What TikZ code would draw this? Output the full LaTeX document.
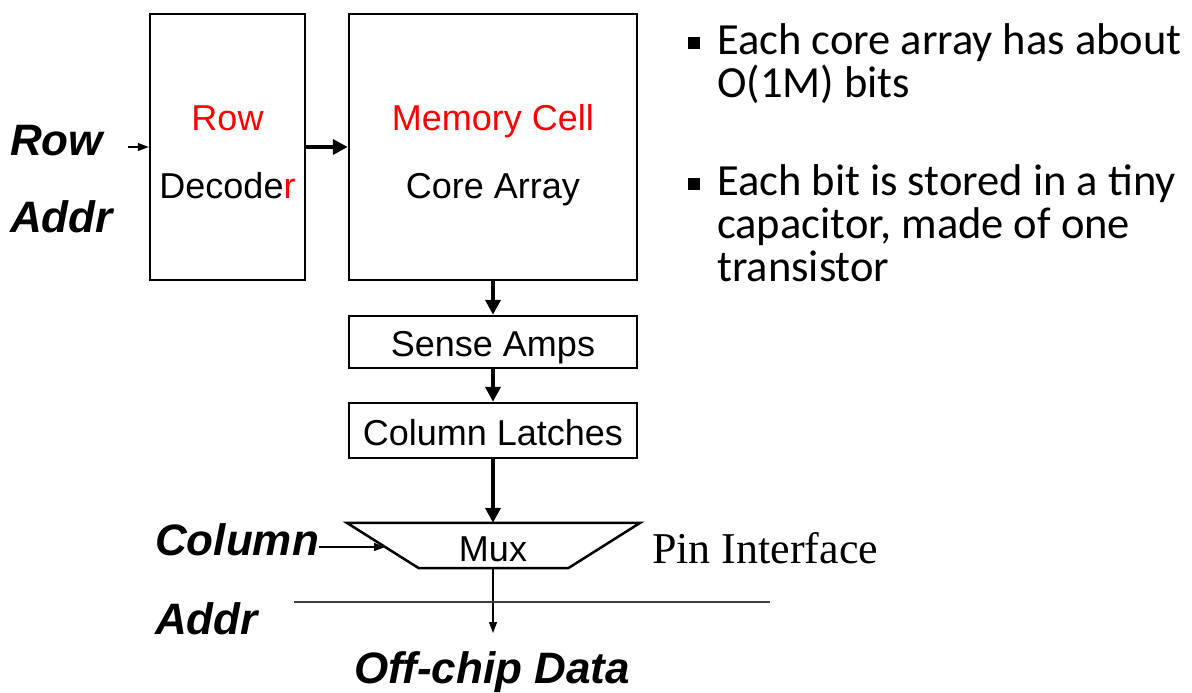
\documentclass[tikz,border=0pt]{standalone}
\usepackage{fontspec}
\setmainfont{Liberation Sans}
\newfontfamily\timesf{Liberation Serif}
\newfontfamily\calibrif{Carlito}
\usetikzlibrary{arrows.meta,calc}
\tikzset{
  blk/.style={draw, line width=2.5pt, inner sep=0pt},
  lbl/.style={inner sep=0pt, anchor=base, font=\fontsize{36}{36}\selectfont},
  big/.style={inner sep=0pt, anchor=base west, font=\fontsize{44}{44}\selectfont\bfseries\itshape},
  bul/.style={inner sep=0pt, anchor=base west, font=\calibrif\fontsize{44.5}{44}\selectfont},
  thickarr/.style={line width=4pt, -{Triangle[length=15pt,width=15pt]}},
  thinarr/.style={line width=1.3pt, -{Triangle[length=11pt,width=8pt]}},
}
\begin{document}
\begin{tikzpicture}[x=1pt,y=-1pt]
\useasboundingbox (0,0) rectangle (1192,693);
% boxes
\node[blk, minimum width=155pt, minimum height=266pt] (dec) at (227.5,147) {};
\node[blk, minimum width=288pt, minimum height=266pt] (core) at (493,147) {};
\node[blk, minimum width=288pt, minimum height=52pt] (sense) at (493,342) {};
\node[blk, minimum width=288pt, minimum height=55pt] (latch) at (493,430.5) {};
\node[inner sep=0pt, minimum width=293pt, minimum height=45pt] (mux) at (493.5,545.5) {};
\draw[line width=2.5pt, line join=miter] (mux.north west) -- (mux.north east) -- ($(mux.south east)+(-72,0)$) -- ($(mux.south west)+(72,0)$) -- cycle;
% box texts
\node[lbl, text=red] (rowt) at (227.5,130) {Row};
\node[lbl] (dect) at (227.5,198) {Decode\textcolor{red}{r}};
\node[lbl, text=red] (memt) at (493,130) {Memory Cell};
\node[lbl] (coret) at (493,198) {Core Array};
\node[lbl] (senset) at (493,356) {Sense Amps};
\node[lbl] (latcht) at (493,445) {Column Latches};
\node[lbl] (muxt) at (493,561) {Mux};
% side labels
\node[big] (row) at (10,155) {Row};
\node[big] (addr1) at (10,232) {Addr};
\node[big] (col) at (155,555) {Column};
\node[big] (addr2) at (155,634) {Addr};
\node[big, anchor=base] (off) at (492,683) {Off-chip Data};
\node[inner sep=0pt, anchor=base west, font=\timesf\fontsize{44}{44}\selectfont] (pin) at (652,563) {Pin Interface};
% connectors
\coordinate (rowin) at (128,147);
\draw[thinarr] (rowin) -- (dec.west);
\draw[thickarr] (dec.east) -- (core.west);
\draw[thickarr] (core.south) -- (sense.north);
\draw[thickarr] (sense.south) -- (latch.north);
\draw[thickarr] (latch.south) -- (latch.south |- mux.north);
\coordinate (colend) at (385,547);
\draw[thinarr] (col.east |- colend) -- (colend);
\coordinate (outend) at (493,633);
\draw[thinarr] (mux.south -| muxt) -- (outend);
\coordinate (lineL) at (294,602);
\coordinate (lineR) at (770,602);
\draw[line width=1.5pt, black!75] (lineL) -- (lineR);
% bullets
\fill (688,37) rectangle (700,49);
\fill (688,178) rectangle (700,190);
\node[bul] (b1a) at (717,55) {Each core array has about};
\node[bul] (b1b) at (717,98) {O(1M) bits};
\node[bul] (b2a) at (717,195) {Each bit is stored in a tiny};
\node[bul] (b2b) at (717,238) {capacitor, made of one};
\node[bul] (b2c) at (717,281) {transistor};
\end{tikzpicture}
\end{document}
